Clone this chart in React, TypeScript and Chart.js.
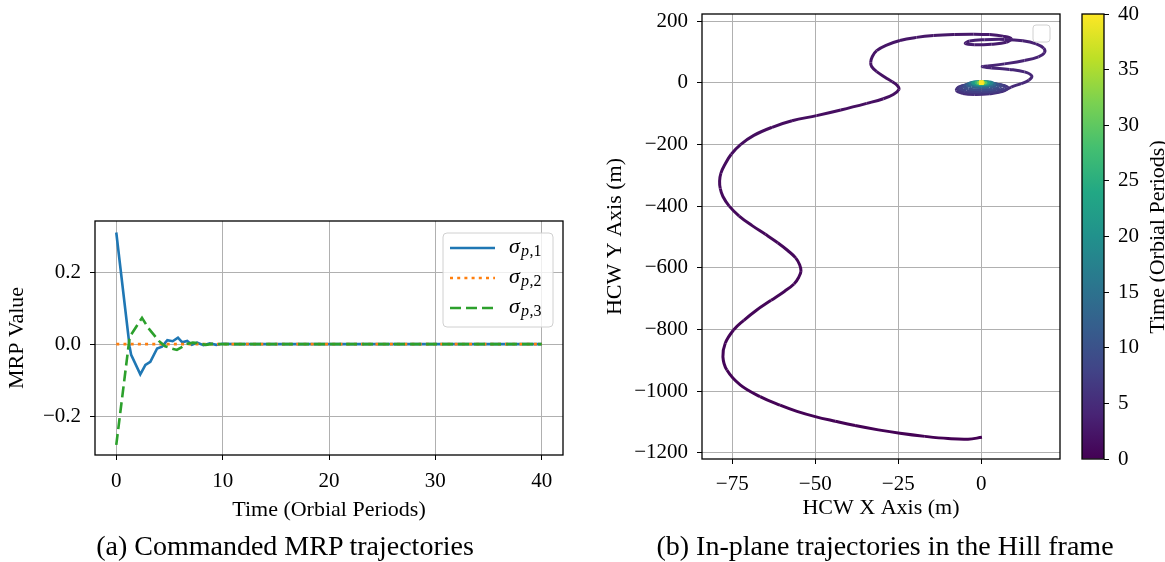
import React, { useEffect, useRef } from "react";
import { Chart, registerables } from "chart.js";

Chart.register(...registerables);

// ---------------- data: (a) commanded MRP trajectories ----------------
const sigma1Time = [0, 1.26, 1.4, 2.26, 2.74, 3.2, 3.84, 4.3, 4.8, 5.3, 5.8, 6.2, 6.67, 7.1, 7.6, 8.2, 8.8, 9.4, 10, 11, 40];
const sigma1Value = [0.31, -0.008, -0.03, -0.084, -0.058, -0.049, -0.012, -0.007, 0.011, 0.008, 0.018, 0.005, 0.009, -0.002, 0.004, -0.003, 0.002, -0.002, 0.001, 0, 0];
const sigma2Time = [0, 40];
const sigma2Value = [0, 0];
const sigma3Time = [0, 1.26, 2.42, 3.0, 4.0, 4.6, 5.2, 5.7, 6.2, 6.6, 7.2, 7.8, 8.4, 9.2, 10, 11, 40];
const sigma3Value = [-0.28, 0.02, 0.073, 0.045, 0.009, -0.006, -0.012, -0.016, -0.008, 0.0, 0.004, 0.003, -0.002, 0.001, 0, 0, 0];
const seriesSubscripts = ["p,1", "p,2", "p,3"];
const mrpXTicks = [0, 10, 20, 30, 40];
const mrpYTicks = [-0.2, 0, 0.2];

// ---------------- data: (b) in-plane trajectory in the Hill frame ----------------
const hcwX = [
  // approach arc
  0.2, -4, -10, -17, -24.5, -31, -38, -44, -50, -55.5, -60.6, -66.6, -72.6, -76.6, -77.8, -77.1, -74.6, -71.5, -67.8, -63.3,
  -59.3, -56.4, -55, -54.3, -54.7, -55.9, -58.2, -61.3, -65, -69, -72.9, -75.9, -77.8, -78.6, -78.8, -78.4, -77.2, -75.3, -72.5, -68.5,
  -63, -57, -49.6, -42.3, -34.5, -29.5, -26.5, -24.8, -25.3, -26.8, -29, -31.5, -33, -33.3, -32.8, -31.5, -28.5, -24.5, -19.5, -14.4,
  -8, -2.4, 2.5, 6.5, 9, 7.5, 3, -2, -4.8, -3.5, 1, 7, 12.5, 16.5, 18.8, 19, 17.2, 13, 7, 2,
  0.3, 3, 8.5, 13, 15.2, 14.3, 12, 9,
  // decaying loops
  6.5, 2.5, -2, -5.5, -7.5, -6.5, -3, 2, 6.5,
  8, 6, 0.5, -5, -7, -5.5, -1.5, 3.5, 7,
  7, 4.5, 0, -4.5, -6.2, -4.5, -1, 3.5, 6,
  5.5, 3.5, 0, -3.8, -5.2, -3.8, -0.5, 3, 5,
  4.5, 2.5, 0, -3, -4.3, -3, 0, 2.8, 4,
  3.5, 2, 0, -2.5, -3.5, -2.5, 0, 2.5, 3.3,
  2.5, 1.3, 0, -1.8, -2.6, -1.8, 0, 1.8, 2.3,
  1.6, 0.8, 0, -1.2, -1.6, -1.2, 0, 1.1, 1.4,
  0.9, 0, -0.7, -0.9, -0.6, 0, 0.6, 0.7,
  0.3, 0, -0.3, -0.2, 0, 0,
];
const hcwY = [
  -1150, -1156, -1154, -1147, -1137, -1126, -1112, -1098, -1083, -1066, -1046, -1018, -980, -932, -889, -845, -802, -770.6, -738.6, -705.8,
  -676.9, -652.9, -631.5, -611, -590.3, -568, -545, -519, -491.7, -463.5, -432.4, -400.3, -369.2, -343.2, -318.8, -293.2, -265.3, -232.2, -200.8, -170.9,
  -144.6, -123.6, -106.7, -88.5, -67, -52, -38, -22, -9, 3, 18, 36, 52, 66, 85, 104, 122, 137, 147, 153,
  156.5, 157.5, 156, 151, 143, 131, 125, 123, 127, 135, 139.5, 140.5, 136, 126, 112, 97, 84, 72, 61, 54,
  52, 48, 43, 35, 22, 8, -3, -14,
  -28, -36, -38.5, -35, -25, -13, -5, -4, -9,
  -17, -28, -34, -31, -21, -10, -5, -5, -10,
  -18, -26, -29, -26, -17, -8, -3, -3, -8,
  -15, -21, -23, -20, -12, -4, 0, -1, -6,
  -11, -15, -16, -13, -7, -1, 2, 1, -3,
  -7, -10, -10.5, -8, -3, 1.5, 3.5, 2.5, -1,
  -4, -6, -6.5, -4.5, -1, 2, 3, 2, -0.5,
  -2.5, -3.5, -3.8, -2.5, -0.5, 1.2, 1.8, 1.2, -0.3,
  -1.4, -2, -1.2, 0, 0.8, 1, 0.6, -0.3,
  -0.6, -0.5, -0.2, 0.2, 0.2, 0,
];
const hcwT = [
  0, 0.02, 0.04, 0.07, 0.1, 0.13, 0.16, 0.19, 0.22, 0.25, 0.28, 0.32, 0.36, 0.41, 0.45, 0.49, 0.53, 0.56, 0.59, 0.62,
  0.65, 0.68, 0.7, 0.73, 0.76, 0.79, 0.82, 0.86, 0.9, 0.94, 0.98, 1.02, 1.06, 1.1, 1.14, 1.18, 1.22, 1.26, 1.3, 1.35,
  1.4, 1.45, 1.5, 1.56, 1.62, 1.67, 1.72, 1.77, 1.82, 1.87, 1.92, 1.98, 2.04, 2.1, 2.16, 2.22, 2.3, 2.38, 2.46, 2.54,
  2.62, 2.7, 2.78, 2.86, 2.94, 3.02, 3.1, 3.18, 3.26, 3.34, 3.42, 3.5, 3.58, 3.66, 3.74, 3.82, 3.9, 3.98, 4.06, 4.14,
  4.2, 4.26, 4.34, 4.42, 4.5, 4.58, 4.66, 4.74,
  4.82, 4.92, 5.02, 5.14, 5.26, 5.38, 5.5, 5.62, 5.74,
  5.88, 6.02, 6.16, 6.3, 6.45, 6.6, 6.75, 6.9, 7.05,
  7.2, 7.36, 7.52, 7.68, 7.84, 8.0, 8.16, 8.32, 8.48,
  8.7, 8.95, 9.2, 9.45, 9.7, 9.95, 10.2, 10.45, 10.7,
  11.0, 11.35, 11.7, 12.05, 12.4, 12.75, 13.1, 13.45, 13.8,
  14.2, 14.7, 15.2, 15.7, 16.2, 16.7, 17.2, 17.7, 18.2,
  18.8, 19.4, 20.0, 20.6, 21.2, 21.8, 22.4, 23.0, 23.6,
  24.3, 25.0, 25.7, 26.4, 27.1, 27.8, 28.5, 29.2, 29.9,
  30.6, 31.3, 32.0, 32.7, 33.4, 34.1, 34.8, 35.5,
  36.2, 36.9, 37.6, 38.3, 39.0, 40,
];
const hcwXTicks = [-75, -50, -25, 0];
const hcwYTicks = [200, 0, -200, -400, -600, -800, -1000, -1200];
const timeRange = [0, 40];
const colorbarTicks = [0, 5, 10, 15, 20, 25, 30, 35, 40];

// ---------------- styling helpers ----------------
const FONT = "'Liberation Serif', 'Times New Roman', serif";
const TICK_SIZE = 21;
const LABEL_SIZE = 22;
const GRID = "#b0b0b0";

const VIRIDIS = ["#440154", "#482475", "#414487", "#355f8d", "#2a788e", "#21918c", "#22a884", "#44bf70", "#7ad151", "#bddf26", "#fde725"];
const hexRgb = (h: string) => [parseInt(h.slice(1, 3), 16), parseInt(h.slice(3, 5), 16), parseInt(h.slice(5, 7), 16)];
const VIR_RGB = VIRIDIS.map(hexRgb);
function viridis(f: number) {
  const v = Math.max(0, Math.min(1, f)) * (VIR_RGB.length - 1);
  const i = Math.min(VIR_RGB.length - 2, Math.floor(v));
  const r = v - i;
  const a = VIR_RGB[i], b = VIR_RGB[i + 1];
  const c = a.map((x, k) => Math.round(x + (b[k] - x) * r));
  return `rgb(${c[0]},${c[1]},${c[2]})`;
}

const minus = (s: string) => s.replace("-", "\u2212");
const fixedTicks = (vals: number[]) => (axis: any) => {
  axis.ticks = vals.map((v) => ({ value: v }));
};
const fitTo = (prop: "width" | "height", size: number) => (s: any) => {
  s[prop] = size;
  s.paddingTop = 0;
  s.paddingBottom = 0;
  s.paddingLeft = 0;
  s.paddingRight = 0;
};

const framePlugin = {
  id: "frame",
  afterDraw(chart: any) {
    const { ctx, chartArea: a } = chart;
    ctx.save();
    ctx.strokeStyle = "#000";
    ctx.lineWidth = 1.3;
    ctx.strokeRect(a.left, a.top, a.right - a.left, a.bottom - a.top);
    ctx.restore();
  },
};

const mrpLegendPlugin = {
  id: "mrpLegend",
  afterDraw(chart: any) {
    const { ctx, chartArea: a } = chart;
    const left = a.right - 120;
    const top = a.top + 12;
    ctx.save();
    ctx.beginPath();
    ctx.roundRect(left, top, 110, 94, 4);
    ctx.fillStyle = "rgba(255,255,255,0.8)";
    ctx.fill();
    ctx.strokeStyle = "#d0d0d0";
    ctx.lineWidth = 1;
    ctx.stroke();
    chart.data.datasets.forEach((ds: any, i: number) => {
      const y = top + 15 + i * 30;
      ctx.beginPath();
      ctx.setLineDash(ds.borderDash || []);
      ctx.strokeStyle = ds.borderColor;
      ctx.lineWidth = ds.borderWidth;
      ctx.moveTo(left + 7, y);
      ctx.lineTo(left + 52, y);
      ctx.stroke();
      ctx.setLineDash([]);
      ctx.fillStyle = "#000";
      ctx.textBaseline = "alphabetic";
      ctx.textAlign = "left";
      ctx.font = `italic 22px ${FONT}`;
      ctx.fillText("\u03C3", left + 66, y + 5);
      const sub = seriesSubscripts[i];
      const p = sub.slice(0, 1);
      const rest = sub.slice(1);
      ctx.font = `italic 16px ${FONT}`;
      ctx.fillText(p, left + 78, y + 8);
      const pw = ctx.measureText(p).width;
      ctx.font = `16px ${FONT}`;
      ctx.fillText(rest, left + 78 + pw + 0.5, y + 8);
    });
    ctx.restore();
  },
};

const emptyLegendPlugin = {
  id: "emptyLegend",
  afterDraw(chart: any) {
    const { ctx, chartArea: a } = chart;
    ctx.save();
    ctx.beginPath();
    ctx.roundRect(a.right - 27, a.top + 11, 17, 17, 3);
    ctx.fillStyle = "rgba(255,255,255,0.8)";
    ctx.fill();
    ctx.strokeStyle = "#d0d0d0";
    ctx.lineWidth = 1;
    ctx.stroke();
    ctx.restore();
  },
};

const colorbarLabelPlugin = {
  id: "cbLabel",
  afterDraw(chart: any) {
    const { ctx } = chart;
    ctx.save();
    ctx.translate(88, 237);
    ctx.rotate(-Math.PI / 2);
    ctx.font = `${LABEL_SIZE}px ${FONT}`;
    ctx.fillStyle = "#000";
    ctx.textAlign = "center";
    ctx.textBaseline = "middle";
    ctx.fillText("Time (Orbial Periods)", 0, 0);
    ctx.restore();
  },
};

const tickFont = { family: FONT, size: TICK_SIZE };
const labelFont = { family: FONT, size: LABEL_SIZE };
const gridOpts = { color: GRID, lineWidth: 1, tickColor: "#000", tickLength: 5, drawTicks: true };

function useChart(ref: React.RefObject<HTMLCanvasElement>, make: () => any) {
  useEffect(() => {
    if (!ref.current) return;
    const chart = new Chart(ref.current, make());
    return () => chart.destroy();
  }, []);
}

export default function App() {
  const mrpRef = useRef<HTMLCanvasElement>(null);
  const hcwRef = useRef<HTMLCanvasElement>(null);
  const cbRef = useRef<HTMLCanvasElement>(null);

  useChart(mrpRef, () => ({
    type: "line",
    data: {
      datasets: [
        {
          label: "sigma_p1",
          data: sigma1Time.map((t, i) => ({ x: t, y: sigma1Value[i] })),
          borderColor: "#1f77b4",
          borderWidth: 2.6,
          pointRadius: 0,
          tension: 0,
          order: 3,
        },
        {
          label: "sigma_p2",
          data: sigma2Time.map((t, i) => ({ x: t, y: sigma2Value[i] })),
          borderColor: "#ff7f0e",
          borderWidth: 2.6,
          borderDash: [3, 4.2],
          pointRadius: 0,
          tension: 0,
          order: 2,
        },
        {
          label: "sigma_p3",
          data: sigma3Time.map((t, i) => ({ x: t, y: sigma3Value[i] })),
          borderColor: "#2ca02c",
          borderWidth: 2.6,
          borderDash: [11, 5],
          pointRadius: 0,
          tension: 0,
          order: 1,
        },
      ],
    },
    options: {
      animation: false,
      responsive: false,
      events: [],
      layout: { padding: { left: 0, top: 21, right: 17, bottom: 0 } },
      plugins: { legend: { display: false }, tooltip: { enabled: false } },
      scales: {
        x: {
          type: "linear",
          min: -2,
          max: 42,
          afterBuildTicks: fixedTicks(mrpXTicks),
          afterFit: fitTo("height", 85),
          grid: gridOpts,
          border: { display: false },
          ticks: { font: tickFont, color: "#000", padding: 9, maxRotation: 0, callback: (v: number) => minus(String(v)) },
          title: { display: true, text: "Time (Orbial Periods)", font: labelFont, color: "#000", padding: { top: 0, bottom: 17 } },
        },
        y: {
          type: "linear",
          min: -0.308,
          max: 0.342,
          afterBuildTicks: fixedTicks(mrpYTicks),
          afterFit: fitTo("width", 95),
          grid: gridOpts,
          border: { display: false },
          ticks: { font: tickFont, color: "#000", padding: 9, callback: (v: number) => minus(v.toFixed(1)) },
          title: { display: true, text: "MRP Value", font: labelFont, color: "#000", padding: { top: 4, bottom: 0 } },
        },
      },
    },
    plugins: [framePlugin, mrpLegendPlugin],
  }));

  useChart(hcwRef, () => ({
    type: "line",
    data: {
      datasets: [
        {
          label: "trajectory",
          data: hcwX.map((x, i) => ({ x, y: hcwY[i] })),
          borderColor: viridis(0),
          borderWidth: 3,
          tension: 0.4,
          segment: {
            borderColor: (c: any) => viridis((hcwT[c.p0DataIndex] + hcwT[c.p1DataIndex]) / 2 / timeRange[1]),
          },
          pointStyle: "rect",
          pointRadius: (c: any) => (hcwT[c.dataIndex] >= 39 ? 3.3 : 0),
          pointBorderWidth: 0,
          pointBackgroundColor: (c: any) => viridis(hcwT[c.dataIndex] / timeRange[1]),
        },
      ],
    },
    options: {
      animation: false,
      responsive: false,
      events: [],
      layout: { padding: { left: 0, top: 14, right: 10, bottom: 0 } },
      plugins: { legend: { display: false }, tooltip: { enabled: false } },
      scales: {
        x: {
          type: "linear",
          min: -84.1,
          max: 23.7,
          afterBuildTicks: fixedTicks(hcwXTicks),
          afterFit: fitTo("height", 81),
          grid: gridOpts,
          border: { display: false },
          ticks: { font: tickFont, color: "#000", padding: 8, maxRotation: 0, callback: (v: number) => minus(String(v)) },
          title: { display: true, text: "HCW X Axis (m)", font: labelFont, color: "#000", padding: { top: 0, bottom: 19 } },
        },
        y: {
          type: "linear",
          min: -1220.4,
          max: 222.8,
          afterBuildTicks: fixedTicks(hcwYTicks),
          afterFit: fitTo("width", 112),
          grid: gridOpts,
          border: { display: false },
          ticks: { font: tickFont, color: "#000", padding: 9, callback: (v: number) => minus(String(v)) },
          title: { display: true, text: "HCW Y Axis (m)", font: labelFont, color: "#000", padding: { top: 12, bottom: 0 } },
        },
      },
    },
    plugins: [framePlugin, emptyLegendPlugin],
  }));

  useChart(cbRef, () => ({
    type: "bar",
    data: {
      labels: ["time"],
      datasets: [
        {
          data: [[timeRange[0], timeRange[1]]],
          barPercentage: 1,
          categoryPercentage: 1,
          borderWidth: 0,
          backgroundColor: (c: any) => {
            const a = c.chart.chartArea;
            if (!a) return VIRIDIS[0];
            const g = c.chart.ctx.createLinearGradient(0, a.bottom, 0, a.top);
            VIRIDIS.forEach((col, i) => g.addColorStop(i / (VIRIDIS.length - 1), col));
            return g;
          },
        },
      ],
    },
    options: {
      animation: false,
      responsive: false,
      events: [],
      layout: { padding: { left: 12, top: 14, right: 0, bottom: 81 } },
      plugins: { legend: { display: false }, tooltip: { enabled: false } },
      scales: {
        x: { display: false },
        y: {
          position: "right",
          min: timeRange[0],
          max: timeRange[1],
          afterBuildTicks: fixedTicks(colorbarTicks),
          afterFit: fitTo("width", 61),
          grid: { drawOnChartArea: false, drawTicks: true, tickColor: "#000", tickLength: 5 },
          border: { display: false },
          ticks: { font: tickFont, color: "#000", padding: 9 },
        },
      },
    },
    plugins: [framePlugin, colorbarLabelPlugin],
  }));

  const caption: React.CSSProperties = {
    position: "absolute",
    width: 600,
    textAlign: "center",
    fontFamily: FONT,
    fontSize: 28,
    lineHeight: "32px",
    color: "#000",
    whiteSpace: "nowrap",
  };

  return (
    <div style={{ position: "absolute", left: 0, top: 0, width: 1165, height: 562, background: "#fff", overflow: "hidden" }}>
      <canvas ref={mrpRef} width={580} height={340} style={{ position: "absolute", left: 0, top: 200, width: 580, height: 340 }} />
      <canvas ref={hcwRef} width={480} height={540} style={{ position: "absolute", left: 590, top: 0, width: 480, height: 540 }} />
      <canvas ref={cbRef} width={95} height={540} style={{ position: "absolute", left: 1070, top: 0, width: 95, height: 540 }} />
      <div style={{ ...caption, left: 285 - 300, top: 530 }}>(a) Commanded MRP trajectories</div>
      <div style={{ ...caption, left: 885 - 300, top: 530 }}>(b) In-plane trajectories in the Hill frame</div>
    </div>
  );
}
